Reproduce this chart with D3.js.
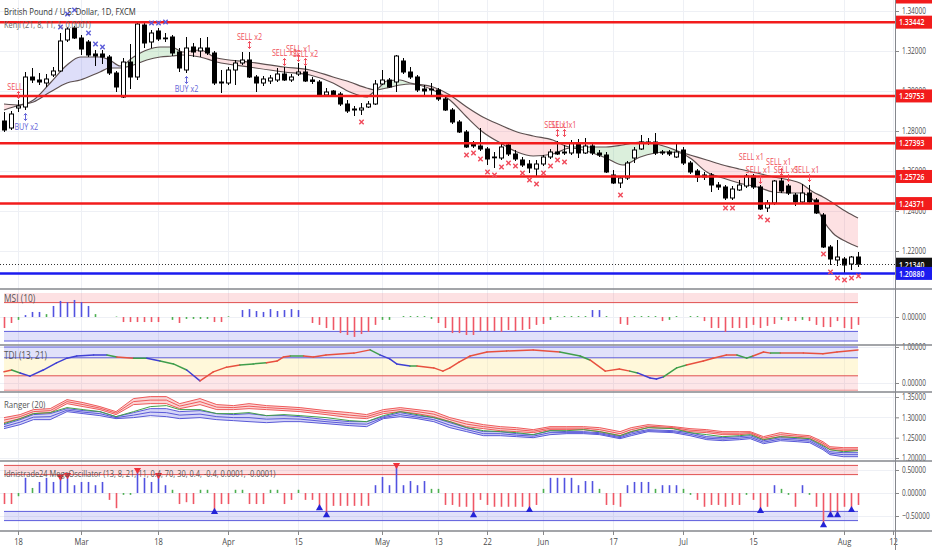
<!DOCTYPE html>
<html>
<head>
<meta charset="utf-8">
<script src="https://cdn.jsdelivr.net/npm/d3@7"></script>
<style>
  body { margin: 0; background: #fff; }
  svg { display: block; font-family: "Open Sans", sans-serif; }
</style>
</head>
<body>
<svg id="chart" width="932" height="550"></svg>
<script>
// GBPUSD daily candles, 14 Feb -> 5 Aug (one per weekday)
const open = [
  1.2850,1.2815,1.2915,1.2920,1.3070,1.3055,1.3040,1.3080,1.3100,1.3255,
  1.3315,1.3265,1.3245,1.3185,1.3185,1.3170,1.3090,1.2970,1.3145,1.3070,
  1.3330,1.3245,1.3300,1.3265,1.3270,1.3195,1.3105,1.3220,1.3200,1.3215,
  1.3190,1.3040,1.3040,1.3105,1.3140,1.3155,1.3070,1.3040,1.3050,1.3055,
  1.3085,1.3055,1.3085,1.3095,1.3055,1.3045,1.2980,1.3000,1.2985,1.2935,
  1.2910,1.2905,1.2920,1.2935,1.3035,1.3055,1.3045,1.3150,1.3095,1.3070,
  1.3010,1.3010,1.3005,1.2960,1.2905,1.2845,1.2795,1.2740,1.2725,1.2710,
  1.2670,1.2665,1.2730,1.2685,1.2655,1.2635,1.2610,1.2635,1.2670,1.2695,
  1.2695,1.2690,1.2735,1.2690,1.2725,1.2690,1.2680,1.2580,1.2540,1.2565,
  1.2665,1.2710,1.2745,1.2745,1.2695,1.2695,1.2670,1.2705,1.2640,1.2600,
  1.2580,1.2580,1.2530,1.2520,1.2465,1.2505,1.2525,1.2575,1.2520,1.2415,
  1.2440,1.2550,1.2525,1.2480,1.2445,1.2490,1.2455,1.2380,1.2220,1.2155,
  1.2160,1.2135,1.2170
];
const high = [
  1.2895,1.2900,1.2955,1.3095,1.3115,1.3090,1.3085,1.3120,1.3290,1.3320,
  1.3325,1.3280,1.3255,1.3205,1.3205,1.3180,1.3100,1.3165,1.3235,1.3345,
  1.3340,1.3305,1.3315,1.3290,1.3280,1.3215,1.3270,1.3240,1.3265,1.3270,
  1.3200,1.3105,1.3120,1.3155,1.3195,1.3195,1.3080,1.3075,1.3080,1.3115,
  1.3120,1.3085,1.3140,1.3135,1.3070,1.3055,1.3015,1.3005,1.2995,1.2955,
  1.2925,1.2940,1.2950,1.3055,1.3105,1.3065,1.3180,1.3165,1.3120,1.3080,
  1.3030,1.3040,1.3015,1.2970,1.2915,1.2855,1.2805,1.2750,1.2815,1.2720,
  1.2695,1.2735,1.2740,1.2705,1.2670,1.2655,1.2655,1.2680,1.2710,1.2750,
  1.2730,1.2755,1.2760,1.2765,1.2740,1.2705,1.2695,1.2605,1.2575,1.2650,
  1.2720,1.2780,1.2765,1.2790,1.2705,1.2705,1.2740,1.2720,1.2650,1.2610,
  1.2595,1.2590,1.2545,1.2530,1.2525,1.2555,1.2585,1.2585,1.2530,1.2455,
  1.2555,1.2565,1.2535,1.2490,1.2535,1.2530,1.2465,1.2390,1.2230,1.2255,
  1.2170,1.2175,1.2195
];
const low = [
  1.2795,1.2805,1.2895,1.2905,1.3040,1.3030,1.3020,1.3070,1.3095,1.3245,
  1.3260,1.3180,1.3170,1.3125,1.3135,1.3080,1.2995,1.2965,1.3010,1.3055,
  1.3215,1.3215,1.3250,1.3245,1.3175,1.3095,1.3090,1.3170,1.3170,1.3180,
  1.3030,1.2990,1.3030,1.3030,1.3130,1.3065,1.2995,1.3025,1.3035,1.3045,
  1.3050,1.3045,1.3075,1.3045,1.3035,1.2975,1.2970,1.2975,1.2925,1.2890,
  1.2875,1.2880,1.2915,1.2930,1.3030,1.3015,1.2995,1.3085,1.3060,1.2995,
  1.2980,1.2980,1.2950,1.2900,1.2835,1.2790,1.2715,1.2715,1.2700,1.2630,
  1.2615,1.2655,1.2675,1.2650,1.2620,1.2590,1.2575,1.2625,1.2660,1.2680,
  1.2680,1.2680,1.2665,1.2685,1.2680,1.2670,1.2590,1.2535,1.2515,1.2555,
  1.2640,1.2705,1.2730,1.2680,1.2680,1.2675,1.2665,1.2630,1.2585,1.2545,
  1.2555,1.2495,1.2505,1.2455,1.2455,1.2500,1.2515,1.2510,1.2405,1.2395,
  1.2430,1.2490,1.2480,1.2425,1.2440,1.2440,1.2385,1.2215,1.2130,1.2125,
  1.2090,1.2105,1.2120
];
const close = [
  1.2805,1.2885,1.2925,1.3070,1.3055,1.3045,1.3060,1.3100,1.3250,1.3310,
  1.3265,1.3210,1.3180,1.3175,1.3170,1.3090,1.3020,1.3145,1.3070,1.3335,
  1.3240,1.3290,1.3260,1.3262,1.3190,1.3115,1.3215,1.3195,1.3215,1.3190,
  1.3040,1.3045,1.3105,1.3140,1.3155,1.3070,1.3040,1.3060,1.3065,1.3085,
  1.3055,1.3070,1.3095,1.3050,1.3048,1.2980,1.2995,1.2980,1.2935,1.2900,
  1.2905,1.2915,1.2935,1.3035,1.3055,1.3020,1.3175,1.3095,1.3070,1.3005,
  1.3000,1.3005,1.2960,1.2905,1.2845,1.2795,1.2720,1.2725,1.2710,1.2660,
  1.2668,1.2720,1.2685,1.2660,1.2630,1.2615,1.2635,1.2670,1.2695,1.2685,
  1.2690,1.2740,1.2690,1.2725,1.2690,1.2680,1.2595,1.2540,1.2565,1.2640,
  1.2705,1.2745,1.2740,1.2690,1.2690,1.2685,1.2695,1.2640,1.2595,1.2570,
  1.2570,1.2530,1.2520,1.2465,1.2510,1.2530,1.2575,1.2520,1.2410,1.2440,
  1.2550,1.2500,1.2490,1.2445,1.2490,1.2445,1.2390,1.2220,1.2160,1.2170,
  1.2130,1.2170,1.2134
];

// time axis: candle index of each label
const tickIdx = [2, 11, 22, 32, 42, 54, 62, 69, 77, 87, 97, 107, 120, 127];
const tickLabels = ['18', 'Mar', '18', 'Apr', '15', 'May', '13', '22', 'Jun', '17', 'Jul', '15', 'Aug', '12'];

// price scale ticks
const priceTicks = [1.22, 1.24, 1.26, 1.28, 1.30, 1.32, 1.34];

// drawn horizontal levels
const resistance = [1.34700, 1.33442, 1.29753, 1.27393, 1.25726, 1.24371];
const support = 1.20880;
const lastPrice = 1.21340;

// Kenji band, read at a few points
const kenjiIdx = [0,2.3,4.2,6.6,9,10.9,13.7,15.1,16.6,18.5,20.4,22.3,24,25.5,28,30.4,35,40,43.7,47,
  49.4,51.8,53,54.7,56.6,58,61.3,63.7,66.1,68.4,70.9,73.3,75.6,78.4,80.9,86,88.4,90.9,94.7,96.6,
  98,100.4,102.7,105,107.6,109.9,112.3,113.7,115.6,117,118.4,120.4,122];
const kenjiUp = [1.2935,1.2930,1.2955,1.3040,1.3130,1.3170,1.3170,1.3155,1.3125,1.3170,
  1.3205,1.3220,1.3220,1.3195,1.3205,1.3165,1.3145,1.3120,1.3105,1.3070,
  1.3045,1.3015,1.3005,1.3050,1.3055,1.3040,1.3020,1.2980,1.2920,1.2870,
  1.2830,1.2795,1.2775,1.2755,1.2720,1.2720,1.2730,1.2745,1.2720,1.2695,
  1.2680,1.2655,1.2630,1.2610,1.2590,1.2570,1.2555,1.2540,1.2495,1.2470,
  1.2440,1.2395,1.2365];
const kenjiLo = [1.2905,1.2930,1.2945,1.2995,1.3040,1.3055,1.3095,1.3115,1.3115,1.3130,
  1.3155,1.3170,1.3175,1.3180,1.3170,1.3145,1.3120,1.3095,1.3080,1.3040,
  1.2995,1.2970,1.3000,1.3015,1.3030,1.3035,1.3005,1.2955,1.2870,1.2795,
  1.2740,1.2695,1.2675,1.2685,1.2715,1.2665,1.2630,1.2670,1.2695,1.2690,
  1.2665,1.2595,1.2565,1.2540,1.2520,1.2495,1.2490,1.2490,1.2455,1.2355,
  1.2290,1.2245,1.2220];
const zoneStart = [0, 2.3, 16.6, 25.5, 53, 58, 80.9, 96.6];
const zoneEnd = [2.3, 16.6, 25.5, 53, 58, 80.9, 96.6, 122];
const zoneKind = ['sell', 'buy', 'hold', 'sell', 'hold', 'sell', 'hold', 'sell'];

// signal marks on the price pane
const blueXIdx = [8, 9, 10, 12, 13, 14, 21, 22, 23];
const blueXPrice = [1.3320, 1.3385, 1.3405, 1.3290, 1.3235, 1.3220, 1.3340, 1.3340, 1.3345];
const redXIdx = [51,66,67,68,69,70,71,72,73,74,75,76,77,78,79,80,88,103,104,108,109,117,118,119,120,121,122];
const redXPrice = [1.2845,1.2680,1.2690,1.2660,1.2595,1.2580,1.2620,1.2640,1.2625,1.2590,1.2555,1.2535,1.2590,1.2625,
  1.2655,1.2645,1.2480,1.2415,1.2415,1.2370,1.2355,1.2185,1.2095,1.2065,1.2055,1.2065,1.2075];
const sellIdx = [1.5, 35, 40, 42, 43, 78.9, 79.9, 106.7, 107.7, 110.6, 111.7, 114.6];
const sellPrice = [1.3020, 1.3270, 1.3190, 1.3210, 1.3185, 1.2830, 1.2830, 1.2670, 1.2605, 1.2645, 1.2605, 1.2605];
const sellText = ['SELL', 'SELL x2', 'SELL x2', 'SELL x1', 'SELL x2', 'SELL x1', 'SELL x1', 'SELL x1', 'SELL x1', 'SELL x1', 'SELL x1', 'SELL x1'];
const sellArrowIdx = [2, 35, 40, 42, 43, 79, 80, 108, 111, 112, 115];
const sellArrowPrice = [1.2980, 1.3230, 1.3145, 1.3165, 1.3145, 1.2790, 1.2790, 1.2555, 1.2595, 1.2565, 1.2565];
const buyIdx = [3.1, 26];
const buyPrice = [1.2820, 1.3010];
const buyText = ['BUY x2', 'BUY x2'];
const buyArrowIdx = [3, 26];
const buyArrowPrice = [1.2870, 1.3055];

// MSI (10) histogram, one bar per candle; b/r/g = blue, red, green
const msiVal = [
  -0.46,-0.25,-0.12,0.08,0.21,0.21,0.12,0.46,0.67,0.62,
  0.71,0.62,0.46,0.12,0,0,0.02,-0.21,-0.21,-0.21,
  -0.21,-0.21,-0.21,0,-0.12,-0.25,-0.08,-0.08,-0.08,-0.08,
  -0.21,-0.21,0.03,0,0.29,0.33,0.25,0.21,0.33,0.25,
  0.29,0.33,0.29,0,-0.25,-0.33,-0.46,-0.54,-0.67,-0.75,
  -0.83,-0.71,-0.62,-0.33,-0.12,-0.12,0,0.04,0.04,0.04,
  0.04,-0.08,-0.25,-0.46,-0.67,-0.67,-0.75,-0.75,-0.58,-0.58,
  -0.58,-0.62,-0.54,-0.58,-0.54,-0.5,-0.33,-0.29,-0.12,0.04,
  0.04,0.04,0.04,0.04,0.29,0.29,0.04,0,-0.29,-0.33,
  0.04,0.04,0.04,0.04,-0.17,-0.12,0.04,0,0.04,0.04,
  -0.17,-0.46,-0.46,-0.62,-0.46,-0.46,-0.46,-0.33,-0.46,-0.37,
  -0.29,-0.12,-0.17,-0.17,-0.12,-0.17,-0.33,-0.42,-0.42,-0.17,
  -0.46,-0.5,-0.33
];
const msiCol = ('rrgbbbgbbb' + 'bbbggggrrr' + 'rrrggrgggg' + 'rrggbbbbbb' + 'bbbgrrrrrr' + 'rrrrgggggg' +
  'ggrrrrrrrr' + 'rrrrrrrrgg' + 'ggggbbggrr' + 'ggggrggggg' + 'rrrrrrrrrr' + 'rgrrgrrrrr' + 'rrr').split('');

// TDI (13, 21) line, read at a few points; colour of the segment that starts there
const tdiIdx = [0,1.1,2.3,3.7,5.6,7.5,9,10.4,12.8,14.7,16.1,18.5,20.4,22.3,24.2,26.1,28,29.9,31.8,33.7,
  35.6,37.5,39,39.9,40.9,42.8,44.2,46,50,52.3,53.7,55.1,56.1,58,59,61.4,62.7,63.7,65,66.6,
  69,71.8,75.6,79.4,82.3,83.7,85.9,87.9,89.4,90.5,92.3,93.2,94.2,96.1,97.5,99.9,101.3,103.2,104.7,106.1,
  107,108.5,109.5,110.9,114.2,117,119,122];
const tdiVal = [0.31,0.36,0.28,0.19,0.36,0.56,0.69,0.75,0.78,0.78,0.72,0.69,0.69,0.61,0.53,0.36,0.06,0.31,0.44,0.5,
  0.53,0.56,0.61,0.72,0.75,0.75,0.72,0.78,0.83,0.92,0.78,0.67,0.53,0.47,0.47,0.42,0.33,0.42,0.58,0.75,
  0.86,0.89,0.92,0.86,0.75,0.64,0.33,0.39,0.33,0.28,0.14,0.11,0.17,0.42,0.5,0.61,0.69,0.78,0.78,0.69,
  0.75,0.86,0.83,0.83,0.83,0.81,0.86,0.92];
const tdiCol = ('rgbbbbbbbgrgbggbrrrggrrrgrrrrgbbbgrrrrrrrrrggrrrgbbbggrrrrggrrgrrrrr').split('');

// Ranger (20): red band, middle line, blue band
const rangerIdx = [0,2.3,4.2,6.6,9,11.3,13.7,16,18.5,20.9,23.2,25.1,28,30.4,32.8,35,37.5,40,42.3,46,
  49.4,51.8,54.2,56.6,59,61.4,63.7,66.1,68.5,70.9,73.2,75.6,78,80.4,82.8,85.1,88,89.6,92,95.6,
  98,100.4,102.7,105.1,106.6,108.5,110.9,113.3,115.1,117,118,119.9,122];
const rRedTop = [1.2993,1.3067,1.3190,1.3214,1.3436,1.3362,1.3264,1.3140,1.3461,1.3510,
  1.3510,1.3337,1.3461,1.3313,1.3288,1.3337,1.3288,1.3264,1.3239,1.3165,
  1.3116,1.3067,1.3190,1.3239,1.3190,1.3140,1.2993,1.2894,1.2820,1.2771,
  1.2746,1.2697,1.2771,1.2771,1.2771,1.2746,1.2648,1.2746,1.2820,1.2771,
  1.2722,1.2697,1.2648,1.2648,1.2648,1.2525,1.2623,1.2574,1.2549,1.2401,
  1.2278,1.2254,1.2254];
const rRedBot = [1.2869,1.2968,1.3091,1.3116,1.3337,1.3264,1.3190,1.3067,1.3313,1.3337,
  1.3337,1.3214,1.3313,1.3190,1.3190,1.3214,1.3190,1.3165,1.3140,1.3067,
  1.2993,1.2968,1.3091,1.3140,1.3091,1.3017,1.2894,1.2771,1.2722,1.2672,
  1.2648,1.2623,1.2697,1.2697,1.2697,1.2648,1.2549,1.2648,1.2746,1.2722,
  1.2648,1.2623,1.2574,1.2574,1.2599,1.2451,1.2525,1.2500,1.2475,1.2328,
  1.2204,1.2180,1.2180];
const rMid = [1.2845,1.2968,1.3091,1.3116,1.3239,1.3190,1.3140,1.3017,1.3140,1.3264,
  1.3288,1.3190,1.3190,1.3091,1.3091,1.3116,1.3042,1.3067,1.3042,1.2993,
  1.2919,1.2894,1.3042,1.3140,1.3067,1.2993,1.2894,1.2746,1.2672,1.2648,
  1.2623,1.2574,1.2672,1.2672,1.2697,1.2648,1.2549,1.2648,1.2746,1.2722,
  1.2623,1.2574,1.2525,1.2549,1.2574,1.2451,1.2525,1.2500,1.2475,1.2303,
  1.2204,1.2155,1.2180];
const rBluTop = [1.2820,1.2943,1.3067,1.3091,1.3214,1.3165,1.3140,1.3017,1.3116,1.3214,
  1.3214,1.3140,1.3165,1.3091,1.3067,1.3091,1.3042,1.3042,1.3017,1.2943,
  1.2894,1.2894,1.3017,1.3116,1.3042,1.2993,1.2869,1.2746,1.2648,1.2648,
  1.2599,1.2574,1.2672,1.2648,1.2648,1.2623,1.2525,1.2623,1.2697,1.2672,
  1.2623,1.2525,1.2500,1.2525,1.2549,1.2426,1.2500,1.2475,1.2451,1.2278,
  1.2155,1.2131,1.2131];
const rBluBot = [1.2722,1.2820,1.2943,1.2943,1.3140,1.3091,1.3042,1.2968,1.2993,1.3042,
  1.3017,1.2968,1.2993,1.2943,1.2919,1.2894,1.2869,1.2894,1.2894,1.2845,
  1.2796,1.2771,1.2968,1.3017,1.2968,1.2894,1.2746,1.2648,1.2549,1.2549,
  1.2525,1.2500,1.2574,1.2599,1.2599,1.2574,1.2475,1.2549,1.2648,1.2623,
  1.2549,1.2451,1.2426,1.2451,1.2475,1.2352,1.2426,1.2401,1.2377,1.2204,
  1.2082,1.2032,1.2032];

// MegaOscillator histogram + arrows
const oscVal = [
  -0.24,-0.24,-0.07,0.33,0.11,0.24,0.33,0.24,0.35,0.39,
  0.17,0.24,0.24,0.17,0.24,-0.15,-0.33,-0.04,-0.04,0.5,
  0.33,0.24,0.39,0.17,0.07,-0.24,-0.2,-0.24,0.07,0.07,
  -0.41,-0.24,-0.24,0.07,0.07,-0.24,-0.24,-0.24,0.07,0.07,
  -0.24,-0.15,0.07,-0.15,-0.15,-0.33,-0.48,-0.28,-0.28,-0.28,
  -0.28,-0.28,-0.28,0.17,0.35,0.17,0.61,0.17,0.26,0.17,
  0.26,0.09,0.09,-0.26,-0.26,-0.3,-0.3,-0.48,-0.15,-0.26,
  -0.3,-0.3,-0.3,-0.3,-0.3,-0.37,-0.26,0.09,0.33,0.33,
  0.33,0.33,0.17,0.26,0.26,0.09,-0.26,-0.26,-0.3,0.17,
  0.24,0.24,0.24,0.09,0.17,0.17,0.17,0.09,-0.04,-0.15,
  -0.3,-0.26,-0.26,-0.3,-0.26,-0.26,-0.04,-0.15,-0.39,-0.3,
  0.17,0.09,-0.04,-0.3,0.17,-0.04,-0.3,-0.7,-0.48,-0.48,
  -0.3,-0.37,-0.26
];
const oscCol = ('rrgbgbbbbb' + 'bbbbbrrggb' + 'bbbbgrrrgg' + 'rrrggrrrgg' + 'rrgrrrrrrr' + 'rrrbbbbbbb' +
  'bggrrrrrrr' + 'rrrrrrrgbb' + 'bbbbbgrrrb' + 'bbbgbbbggr' + 'rrrrrrgrrr' + 'bggrbgrrrr' + 'rrr').split('');
const oscSellIdx = [8, 9, 19, 22, 56];
const oscBuyIdx = [30, 45, 46, 67, 75, 108, 117, 118, 119, 121];

// ---- drawing ----
const svg = d3.select('#chart');
const SX = 0.8;      // the picture is squeezed sideways, text with it
const SX_AXIS = 0.72;
const plotW = 895;
const nBars = open.length;

const x = d3.scaleLinear().domain([0, 127]).range([4, 893]);
const xEnd = x(nBars - 1);
const yMain = d3.scaleLinear().domain([1.201, 1.3455]).range([289, 0]);
const yMsi = d3.scaleLinear().domain([-1, 1]).range([341, 293]);
const yTdi = d3.scaleLinear().domain([0, 1]).range([383, 347]);
const yRng = d3.scaleLinear().domain([1.2, 1.35]).range([458, 397]);
const yOsc = d3.scaleLinear().domain([-0.5, 0.5]).range([516, 470]);

const panes = [
  { top: 0, bottom: 289, y: yMain, ticks: priceTicks },
  { top: 289, bottom: 345, y: yMsi, ticks: [0] },
  { top: 345, bottom: 392, y: yTdi, ticks: [0, 1] },
  { top: 392, bottom: 461, y: yRng, ticks: [1.2, 1.25, 1.3, 1.35] },
  { top: 461, bottom: 531, y: yOsc, ticks: [-0.5, 0, 0.5] }
];

const colors = { b: '#5252e0', r: '#ef5766', g: '#4caf50' };
const tdiColors = { b: '#3f3fd4', r: '#e8503f', g: '#3f9e4b' };

const defs = svg.append('defs');
panes.forEach((p, k) => {
  defs.append('clipPath').attr('id', 'clip' + k)
    .append('rect').attr('x', 0).attr('y', p.top).attr('width', plotW).attr('height', p.bottom - p.top);
});

function txt(g, x0, y0, s, size, color, anchor, sx) {
  return g.append('text')
    .attr('transform', `translate(${x0},${y0}) scale(${sx || SX},1)`)
    .attr('font-size', size)
    .attr('fill', color)
    .attr('text-anchor', anchor || 'start')
    .text(s);
}

// grid
const grid = svg.append('g');
tickIdx.forEach((t) => {
  grid.append('line')
    .attr('x1', Math.round(x(t)) + 0.5).attr('x2', Math.round(x(t)) + 0.5)
    .attr('y1', 0).attr('y2', 531)
    .attr('stroke', '#eef0f5');
});
panes.forEach((p) => {
  p.ticks.forEach((v) => {
    grid.append('line')
      .attr('x1', 0).attr('x2', plotW)
      .attr('y1', Math.round(p.y(v)) + 0.5).attr('y2', Math.round(p.y(v)) + 0.5)
      .attr('stroke', '#eef0f5');
  });
});

// ---------- main pane ----------
const gMain = svg.append('g').attr('clip-path', 'url(#clip0)');

const kenji = kenjiIdx.map((i, k) => ({ i, up: kenjiUp[k], lo: kenjiLo[k] }));
const zoneFill = { sell: 'rgba(242,80,90,0.17)', buy: 'rgba(90,90,225,0.2)', hold: 'rgba(76,175,80,0.2)' };
const kenjiArea = d3.area()
  .x((d) => x(d.i)).y0((d) => yMain(d.lo)).y1((d) => yMain(d.up))
  .curve(d3.curveMonotoneX);
zoneStart.forEach((s, k) => {
  defs.append('clipPath').attr('id', 'kz' + k)
    .append('rect').attr('x', x(s)).attr('y', 0)
    .attr('width', x(zoneEnd[k]) - x(s)).attr('height', 289);
  gMain.append('g').attr('clip-path', `url(#kz${k})`)
    .append('path').datum(kenji)
    .attr('d', kenjiArea)
    .attr('fill', zoneFill[zoneKind[k]]);
});
['up', 'lo'].forEach((key) => {
  gMain.append('path').datum(kenji)
    .attr('d', d3.line().x((d) => x(d.i)).y((d) => yMain(d[key])).curve(d3.curveMonotoneX))
    .attr('fill', 'none').attr('stroke', '#5d5050').attr('stroke-width', 1.2);
});

// candles
const bars = d3.range(nBars);
gMain.selectAll('line.wick').data(bars).join('line')
  .attr('class', 'wick')
  .attr('x1', (i) => Math.round(x(i)) + 0.5).attr('x2', (i) => Math.round(x(i)) + 0.5)
  .attr('y1', (i) => yMain(high[i])).attr('y2', (i) => yMain(low[i]))
  .attr('stroke', '#000');
gMain.selectAll('rect.body').data(bars).join('rect')
  .attr('class', 'body')
  .attr('x', (i) => Math.round(x(i)) - 1.5)
  .attr('y', (i) => yMain(Math.max(open[i], close[i])))
  .attr('width', 4)
  .attr('height', (i) => Math.max(0.8, Math.abs(yMain(open[i]) - yMain(close[i]))))
  .attr('fill', (i) => (close[i] >= open[i] ? '#fff' : '#000'))
  .attr('stroke', '#000');

// levels
resistance.forEach((p) => {
  gMain.append('line').attr('x1', 0).attr('x2', plotW)
    .attr('y1', yMain(p)).attr('y2', yMain(p))
    .attr('stroke', '#f21c1c').attr('stroke-width', 2.5);
});
gMain.append('line').attr('x1', 0).attr('x2', plotW)
  .attr('y1', yMain(support)).attr('y2', yMain(support))
  .attr('stroke', '#1b1bef').attr('stroke-width', 2.5);
gMain.append('line').attr('x1', 0).attr('x2', plotW)
  .attr('y1', Math.round(yMain(lastPrice)) + 0.5).attr('y2', Math.round(yMain(lastPrice)) + 0.5)
  .attr('stroke', '#333').attr('stroke-dasharray', '1,2');

// x marks
function cross(g, cx, cy, color) {
  g.append('path')
    .attr('d', `M${cx - 2.2},${cy - 2.2}L${cx + 2.2},${cy + 2.2}M${cx - 2.2},${cy + 2.2}L${cx + 2.2},${cy - 2.2}`)
    .attr('stroke', color).attr('stroke-width', 1.4).attr('fill', 'none');
}
blueXIdx.forEach((i, k) => cross(gMain, x(i) + 0.5, yMain(blueXPrice[k]), '#5a5ad8'));
redXIdx.forEach((i, k) => cross(gMain, x(i) + 0.5, yMain(redXPrice[k]), '#f04a5a'));

// little up/down arrows under the signal labels
function updown(g, cx, cy, color) {
  g.append('path')
    .attr('d', `M${cx},${cy - 3.5}V${cy + 3.5}M${cx - 1.6},${cy - 1.8}L${cx},${cy - 3.5}L${cx + 1.6},${cy - 1.8}` +
      `M${cx - 1.6},${cy + 1.8}L${cx},${cy + 3.5}L${cx + 1.6},${cy + 1.8}`)
    .attr('stroke', color).attr('stroke-width', 1).attr('fill', 'none');
}
sellArrowIdx.forEach((i, k) => updown(gMain, x(i) + 0.5, yMain(sellArrowPrice[k]), '#f04a5a'));
buyArrowIdx.forEach((i, k) => updown(gMain, x(i) + 0.5, yMain(buyArrowPrice[k]), '#6464d8'));

sellIdx.forEach((i, k) => txt(gMain, x(i) + 0.5, yMain(sellPrice[k]) + 3, sellText[k], 9, '#f0505a', 'middle'));
buyIdx.forEach((i, k) => txt(gMain, x(i) + 0.5, yMain(buyPrice[k]) + 3, buyText[k], 9, '#6464d8', 'middle'));

txt(svg, 4, 15, 'British Pound / U.S. Dollar, 1D, FXCM', 9.7, '#333');
txt(svg, 4, 28, 'Kenji (21, 8, 11, 1, 0.0001)', 9.2, '#666');

// ---------- MSI ----------
const gMsi = svg.append('g').attr('clip-path', 'url(#clip1)');
gMsi.append('rect').attr('x', x(0)).attr('width', xEnd - x(0))
  .attr('y', yMsi(1)).attr('height', yMsi(0.6) - yMsi(1)).attr('fill', 'rgba(242,80,90,0.17)');
gMsi.append('rect').attr('x', x(0)).attr('width', xEnd - x(0))
  .attr('y', yMsi(-0.6)).attr('height', yMsi(-1) - yMsi(-0.6)).attr('fill', 'rgba(90,90,230,0.18)');
[[0.6, '#e05050'], [-0.6, '#5c5cdc'], [-1, '#5c5cdc']].forEach(([v, c]) => {
  gMsi.append('line').attr('x1', x(0)).attr('x2', xEnd)
    .attr('y1', yMsi(v)).attr('y2', yMsi(v)).attr('stroke', c);
});
gMsi.selectAll('line.bar').data(bars.filter((i) => msiVal[i] !== 0)).join('line')
  .attr('class', 'bar')
  .attr('x1', (i) => x(i) + 0.5).attr('x2', (i) => x(i) + 0.5)
  .attr('y1', yMsi(0)).attr('y2', (i) => yMsi(msiVal[i]))
  .attr('stroke', (i) => colors[msiCol[i]]).attr('stroke-width', 1.6);
txt(svg, 4, 302, 'MSI (10)', 10.5, '#555');

// ---------- TDI ----------
const gTdi = svg.append('g').attr('clip-path', 'url(#clip2)');
[[1, 0.7, 'rgba(90,90,230,0.18)'], [0.7, 0.2, 'rgba(255,236,150,0.35)'], [0.2, -0.2, 'rgba(242,80,90,0.14)']]
  .forEach(([a, b, c]) => {
    gTdi.append('rect').attr('x', x(0)).attr('width', xEnd - x(0))
      .attr('y', yTdi(a)).attr('height', yTdi(b) - yTdi(a)).attr('fill', c);
  });
[[1, '#5c5cdc'], [0.7, '#5c5cdc'], [0.2, '#e05050'], [-0.2, '#f09090']].forEach(([v, c]) => {
  gTdi.append('line').attr('x1', x(0)).attr('x2', xEnd)
    .attr('y1', yTdi(v)).attr('y2', yTdi(v)).attr('stroke', c);
});
const tdiLine = d3.line().x((d) => x(d[0])).y((d) => yTdi(d[1]));
for (let k = 0; k < tdiIdx.length - 1; k++) {
  gTdi.append('path')
    .datum([[tdiIdx[k], tdiVal[k]], [tdiIdx[k + 1], tdiVal[k + 1]]])
    .attr('d', tdiLine)
    .attr('fill', 'none').attr('stroke', tdiColors[tdiCol[k]])
    .attr('stroke-width', 1.5).attr('stroke-linecap', 'round');
}
txt(svg, 4, 359, 'TDI (13, 21)', 10.3, '#555');

// ---------- Ranger ----------
const gRng = svg.append('g').attr('clip-path', 'url(#clip3)');
const rng = rangerIdx.map((i, k) => ({
  i, rt: rRedTop[k], rb: rRedBot[k], m: rMid[k], bt: rBluTop[k], bb: rBluBot[k]
}));
function band(topKey, botKey, fill, stroke) {
  gRng.append('path').datum(rng)
    .attr('d', d3.area().x((d) => x(d.i)).y0((d) => yRng(d[botKey])).y1((d) => yRng(d[topKey])))
    .attr('fill', fill);
  [(d) => d[topKey], (d) => (d[topKey] + d[botKey]) / 2, (d) => d[botKey]].forEach((f) => {
    gRng.append('path').datum(rng)
      .attr('d', d3.line().x((d) => x(d.i)).y((d) => yRng(f(d))))
      .attr('fill', 'none').attr('stroke', stroke).attr('stroke-width', 1);
  });
}
band('bt', 'bb', 'rgba(90,90,225,0.25)', '#5a5ad8');
band('rt', 'rb', 'rgba(240,90,90,0.25)', '#ef5a5a');
gRng.append('path').datum(rng)
  .attr('d', d3.line().x((d) => x(d.i)).y((d) => yRng(d.m)))
  .attr('fill', 'none').attr('stroke', '#43a047').attr('stroke-width', 1);
txt(svg, 4, 408, 'Ranger (20)', 9.8, '#555');

// ---------- MegaOscillator ----------
const gOsc = svg.append('g').attr('clip-path', 'url(#clip4)');
gOsc.append('rect').attr('x', x(0)).attr('width', xEnd - x(0))
  .attr('y', yOsc(0.6)).attr('height', yOsc(0.4) - yOsc(0.6)).attr('fill', 'rgba(242,80,90,0.17)');
gOsc.append('rect').attr('x', x(0)).attr('width', xEnd - x(0))
  .attr('y', yOsc(-0.4)).attr('height', yOsc(-0.6) - yOsc(-0.4)).attr('fill', 'rgba(90,90,230,0.18)');
[[0.6, '#e05050'], [0.4, '#e05050'], [-0.4, '#5c5cdc'], [-0.6, '#5c5cdc']].forEach(([v, c]) => {
  gOsc.append('line').attr('x1', x(0)).attr('x2', xEnd)
    .attr('y1', yOsc(v)).attr('y2', yOsc(v)).attr('stroke', c);
});
gOsc.selectAll('line.bar').data(bars).join('line')
  .attr('class', 'bar')
  .attr('x1', (i) => x(i) + 0.5).attr('x2', (i) => x(i) + 0.5)
  .attr('y1', yOsc(0)).attr('y2', (i) => yOsc(oscVal[i]))
  .attr('stroke', (i) => colors[oscCol[i]]).attr('stroke-width', 1.6);
const tri = d3.symbol(d3.symbolTriangle).size(22);
oscSellIdx.forEach((i) => {
  gOsc.append('path').attr('d', tri)
    .attr('transform', `translate(${x(i) + 0.5},${yOsc(oscVal[i])}) rotate(180)`)
    .attr('fill', '#f0303a');
});
oscBuyIdx.forEach((i) => {
  gOsc.append('path').attr('d', tri)
    .attr('transform', `translate(${x(i) + 0.5},${yOsc(oscVal[i])})`)
    .attr('fill', '#2424d8');
});
txt(svg, 4, 477, 'Idnistrade24 MegaOscillator (13, 8, 21, 11, 0.4, 70, 30, 0.4, -0.4, 0.0001, -0.0001)', 9.3, '#555');

// ---------- axes ----------
const fmt = d3.format('.5f');
panes.forEach((p) => {
  const g = svg.append('g')
    .attr('transform', `translate(${plotW},0)`)
    .call(d3.axisRight(p.y).tickValues(p.ticks).tickFormat(fmt).tickSize(4).tickSizeOuter(0));
  g.select('.domain').remove();
  g.attr('font-size', 9).attr('font-family', null);
  g.selectAll('line').attr('stroke', '#888');
  g.selectAll('text').attr('x', 7 / SX_AXIS).attr('transform', `scale(${SX_AXIS},1)`).attr('fill', '#4a4a4a');
});

// price labels sitting on the axis
function tag(p, fill) {
  const cy = yMain(p);
  svg.append('rect').attr('x', 896).attr('y', cy - 6.5).attr('width', 36).attr('height', 13).attr('fill', fill);
  txt(svg, 899, cy + 3.3, fmt(p), 9.5, '#fff', 'start', SX_AXIS).attr('font-weight', 600);
}
resistance.forEach((p) => tag(p, '#f21c1c'));
tag(lastPrice, '#111');
tag(support, '#1b1bef');

const gx = svg.append('g')
  .attr('transform', 'translate(0,531)')
  .call(d3.axisBottom(x).tickValues(tickIdx).tickFormat((d, k) => tickLabels[k]).tickSize(4).tickSizeOuter(0));
gx.select('.domain').remove();
gx.attr('font-size', 9.5).attr('font-family', null);
gx.selectAll('line').attr('stroke', '#888');
gx.selectAll('text').attr('transform', `scale(${SX},1)`).attr('fill', '#4a4a4a');

// pane separators and scale border
[289, 345, 392, 461, 531].forEach((y) => {
  svg.append('line').attr('x1', 0).attr('x2', 932).attr('y1', y).attr('y2', y)
    .attr('stroke', '#85878d').attr('stroke-width', 1.6);
});
svg.append('line').attr('x1', plotW + 0.5).attr('x2', plotW + 0.5).attr('y1', 0).attr('y2', 550)
  .attr('stroke', '#85878d');
</script>
</body>
</html>
